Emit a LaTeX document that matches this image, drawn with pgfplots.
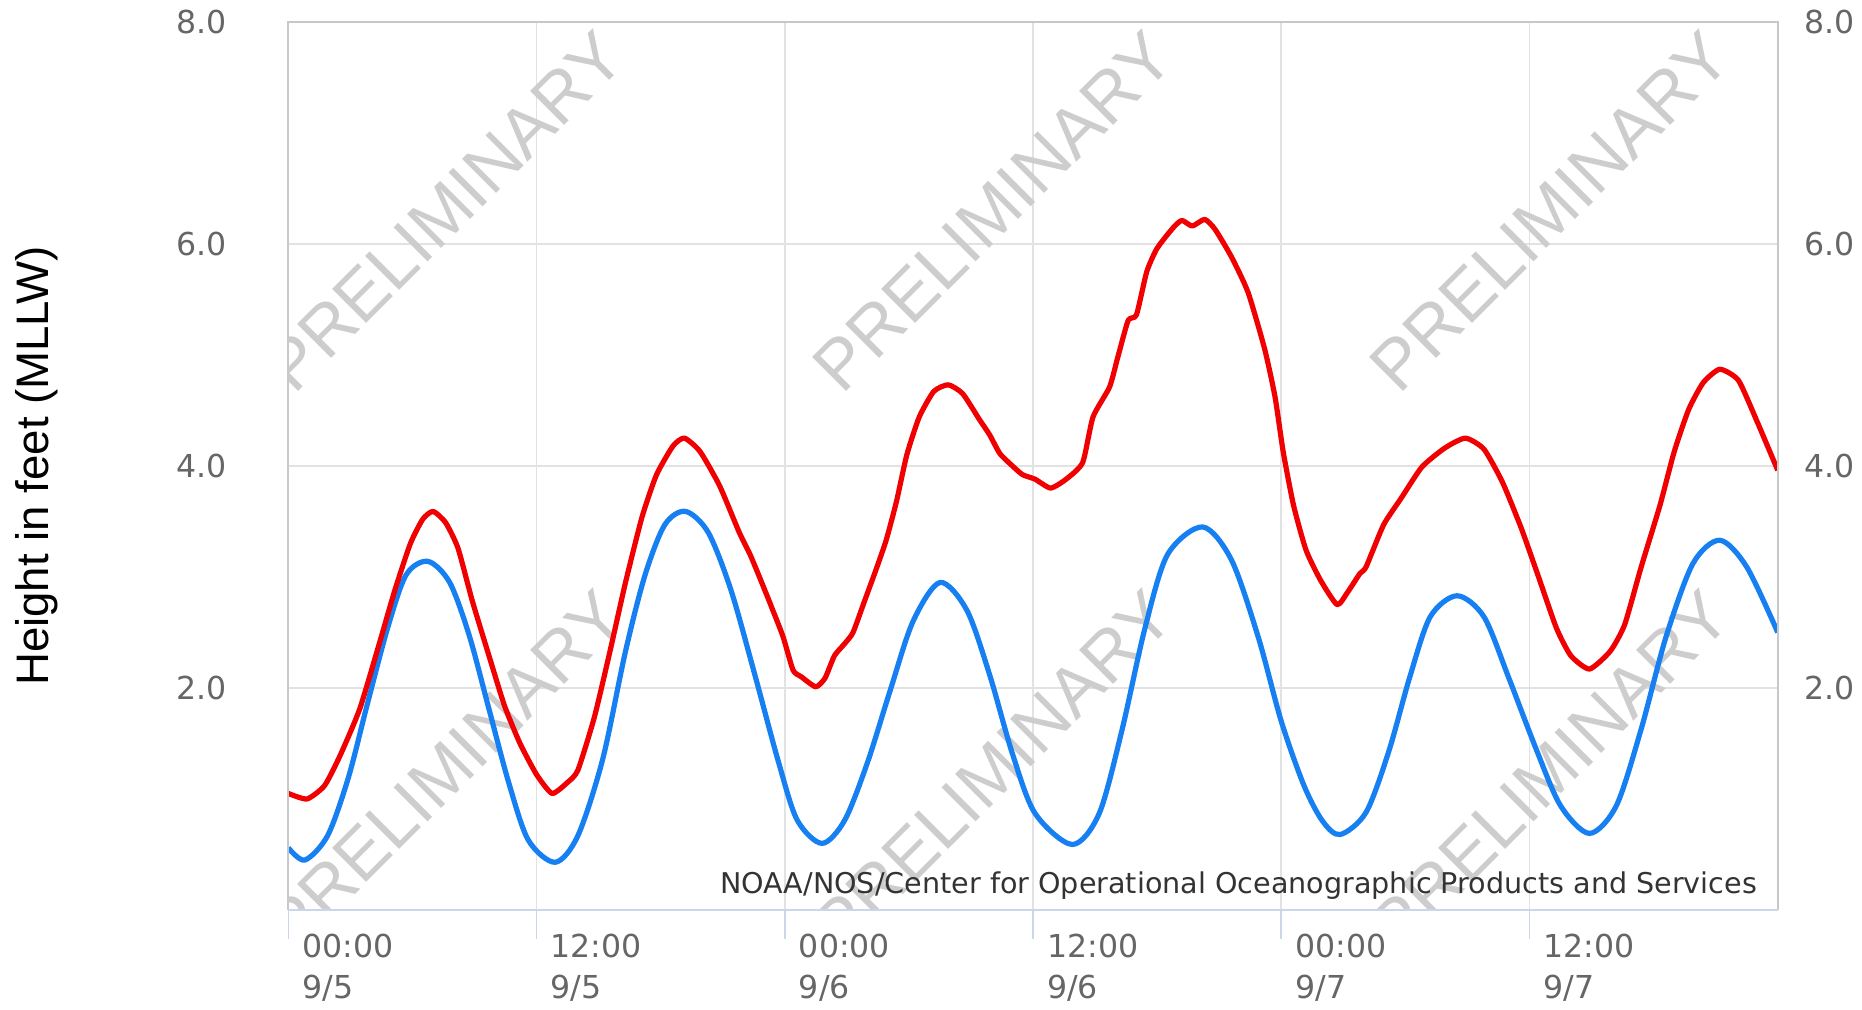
\documentclass[border=0pt]{standalone}
\usepackage{fontspec}
\setmainfont{DejaVu Sans}
\newfontfamily\arialfont{Liberation Sans}
\usepackage{pgfplots}
\pgfplotsset{compat=1.18}
\definecolor{obsred}{RGB}{240,0,0}
\definecolor{predblue}{RGB}{22,128,242}
\definecolor{gridgray}{RGB}{226,226,226}
\definecolor{bordergray}{RGB}{200,200,200}
\definecolor{tickblue}{RGB}{204,214,235}
\definecolor{labelgray}{RGB}{102,102,102}
\definecolor{wmgray}{RGB}{205,205,205}
\definecolor{srcgray}{RGB}{51,51,51}

\pgfplotstableread{
h ft
0 1.05
0.9 1.0
1.75 1.12
2.5 1.39
3.45 1.81
4.4 2.40
5.15 2.88
5.9 3.30
6.5 3.52
7.0 3.59
7.6 3.49
8.2 3.26
8.9 2.78
9.7 2.29
10.45 1.84
11.2 1.5
12.0 1.22
12.75 1.05
13.5 1.15
14.0 1.26
14.8 1.74
15.55 2.33
16.3 2.95
17.1 3.54
17.8 3.92
18.6 4.18
19.15 4.25
19.9 4.13
20.85 3.82
21.8 3.40
22.35 3.19
23.1 2.85
23.9 2.47
24.4 2.16
24.8 2.10
25.5 2.01
25.95 2.09
26.4 2.29
26.9 2.40
27.3 2.50
27.85 2.78
28.4 3.06
28.9 3.33
29.4 3.68
29.9 4.10
30.5 4.44
31.2 4.67
31.9 4.73
32.6 4.65
33.4 4.42
33.9 4.28
34.4 4.11
35.0 4.00
35.5 3.92
36.1 3.88
36.85 3.80
37.6 3.88
38.4 4.03
38.9 4.44
39.7 4.71
40.1 4.98
40.6 5.31
41.0 5.36
41.5 5.75
42.0 5.96
42.8 6.15
43.2 6.21
43.7 6.16
44.3 6.22
44.8 6.13
45.6 5.88
46.4 5.56
47.2 5.05
47.7 4.62
48.1 4.12
48.6 3.64
49.2 3.24
49.9 2.97
50.7 2.75
51.2 2.86
51.8 3.03
52.1 3.09
52.95 3.47
53.8 3.71
54.8 3.99
55.9 4.16
56.9 4.25
57.8 4.15
58.7 3.85
59.6 3.44
60.4 3.02
61.3 2.54
62.0 2.29
62.9 2.17
63.9 2.33
64.6 2.57
65.4 3.09
66.3 3.64
67.0 4.13
67.7 4.51
68.4 4.75
69.2 4.87
70.1 4.77
71.0 4.40
72.0 3.96
}\observed

\pgfplotstableread{
h ft
0 0.56
0.8 0.45
1.9 0.67
2.9 1.19
3.8 1.84
4.8 2.54
5.7 3.02
6.75 3.14
7.8 2.95
8.75 2.47
9.7 1.81
10.65 1.15
11.6 0.63
12.9 0.43
14.0 0.67
15.2 1.36
16.3 2.33
17.25 3.02
18.2 3.47
19.2 3.59
20.3 3.40
21.4 2.88
22.55 2.12
23.7 1.33
24.6 0.81
25.8 0.60
26.9 0.81
28.0 1.33
29.1 1.98
30.2 2.60
31.5 2.95
32.8 2.70
33.9 2.12
35.0 1.41
36.1 0.87
37.9 0.59
39.2 0.87
40.3 1.62
41.4 2.53
42.5 3.20
44.2 3.45
45.6 3.15
46.9 2.45
48.0 1.70
49.1 1.12
50.0 0.80
50.85 0.68
52.1 0.88
53.2 1.43
54.2 2.09
55.2 2.64
56.5 2.83
57.8 2.64
59.0 2.09
60.3 1.46
61.5 0.94
62.9 0.69
64.2 0.94
65.4 1.63
66.6 2.46
67.9 3.12
69.2 3.33
70.5 3.09
72.0 2.50
}\predicted

\begin{document}
\begin{tikzpicture}
\begin{axis}[name=ax, scale only axis, width=372.35pt, height=222.08pt,
  xmin=0, xmax=72, ymin=0, ymax=8,
  axis line style={draw=none},
  xtick={0,12,24,36,48,60},
  xticklabels={{00:00\\9/5},{12:00\\9/5},{00:00\\9/6},{12:00\\9/6},{00:00\\9/7},{12:00\\9/7}},
  ytick={2,4,6,8},
  xtick pos=bottom, ytick pos=left,
  tick align=outside, major tick length=7.25pt,
  x tick style={tickblue, line width=0.4pt},
  y tick style={draw=none},
  grid=major, major grid style={gridgray, line width=0.4pt},
  tick label style={font=\fontsize{7.9}{10.25}\selectfont, text=labelgray},
  xticklabel style={align=left, anchor=north west, inner sep=0pt, xshift=3.35pt, yshift=1.5pt},
  yticklabel style={anchor=east, inner sep=0pt, xshift=-8pt,
    /pgf/number format/.cd, fixed, fixed zerofill, precision=1, assume math mode=true},
]
\foreach \cx/\cy in {7.55/6.29, 34.05/6.29, 61.0/6.29, 7.55/1.25, 34.05/1.25, 61.0/1.25}{
  \edef\tmp{\noexpand\node[rotate=45, text=wmgray, font=\noexpand\arialfont\noexpand\fontsize{17.5}{20}\noexpand\selectfont] at (axis cs:\cx,\cy) {PRELIMINARY};}
  \tmp
}
\addplot[predblue, line width=1.3pt, smooth, tension=0.5] table[x=h, y=ft] {\predicted};
\addplot[obsred, line width=1.3pt, smooth, tension=0.35, line join=round] table[x=h, y=ft] {\observed};
\end{axis}
\begin{axis}[scale only axis, width=372.35pt, height=222.08pt,
  xmin=0, xmax=72, ymin=0, ymax=8,
  hide x axis, axis y line*=right, axis line style={draw=none},
  ytick={2,4,6,8}, y tick style={draw=none}, major tick length=0pt,
  tick label style={font=\fontsize{7.9}{10.25}\selectfont, text=labelgray},
  yticklabel style={anchor=west, inner sep=0pt, xshift=6.5pt,
    /pgf/number format/.cd, fixed, fixed zerofill, precision=1, assume math mode=true},
]
\addplot[draw=none] coordinates {(0,0) (72,8)};
\end{axis}
\draw[bordergray, line width=0.5pt] (ax.south west) -- (ax.north west) -- (ax.north east) -- (ax.south east);
\draw[tickblue, line width=0.5pt] (ax.south west) -- (ax.south east);
\node[rotate=90, font=\arialfont\fontsize{11.4}{13}\selectfont] at ([xshift=-63pt]ax.west) {Height in feet (MLLW)};
\node[anchor=base east, inner sep=0pt, font=\fontsize{7.15}{8}\selectfont, text=srcgray] at ([xshift=-5pt,yshift=4.25pt]ax.south east) {NOAA/NOS/Center for Operational Oceanographic Products and Services};
\pgfresetboundingbox
\path ([xshift=-72.08pt,yshift=-24.75pt]ax.south west) rectangle ++(465.5pt,252.25pt);
\end{tikzpicture}
\end{document}
